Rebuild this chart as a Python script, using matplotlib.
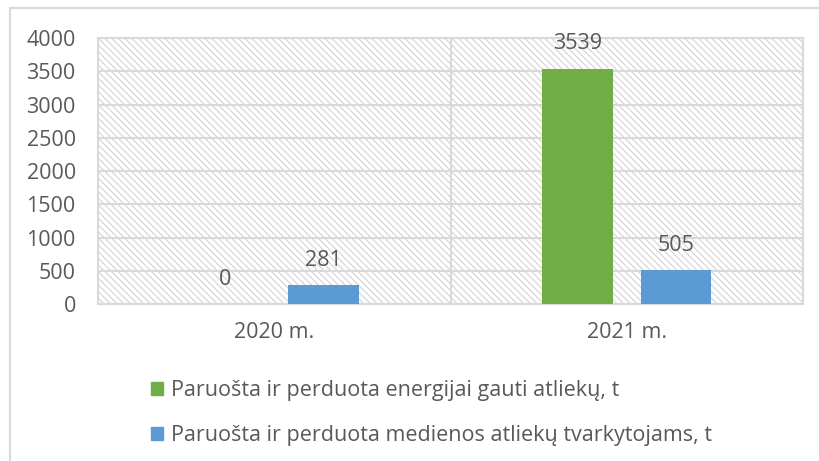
import matplotlib.pyplot as plt
import matplotlib.patches as mpatches
from matplotlib.lines import Line2D
import numpy as np

# data
categories = ['2020 m.', '2021 m.']
energy_vals = [0, 3539]
wood_vals = [281, 505]
series_names = ['Paruošta ir perduota energijai gauti atliekų, t',
                'Paruošta ir perduota medienos atliekų tvarkytojams, t']
y_ticks = [0, 500, 1000, 1500, 2000, 2500, 3000, 3500, 4000]

green = '#70AD47'
blue = '#5B9BD5'
text_col = '#595959'
grid_col = '#d9d9d9'

plt.rcParams['font.family'] = ['Open Sans', 'DejaVu Sans']
plt.rcParams['hatch.color'] = '#d3d3d3'
plt.rcParams['hatch.linewidth'] = 0.8

fs = 15.5

fig = plt.figure(figsize=(8.19, 4.61), dpi=100)
ax = fig.add_axes([98 / 819, 1 - 304 / 461, (803 - 98) / 819, (304 - 38) / 461])

x = np.arange(len(categories))
w = 0.2
off = 0.14

# hatched background
ax.add_patch(mpatches.Rectangle((0, 0), 1, 1, transform=ax.transAxes,
                                facecolor='white', edgecolor='#d3d3d3',
                                hatch='\\\\\\\\\\', lw=0, zorder=0))

b1 = ax.bar(x - off, energy_vals, w, color=green, zorder=3)
b2 = ax.bar(x + off, wood_vals, w, color=blue, zorder=3)

for bars, vals in [(b1, energy_vals), (b2, wood_vals)]:
    for b, v in zip(bars, vals):
        ax.annotate(str(v), (b.get_x() + b.get_width() / 2, v),
                    xytext=(0, 18), textcoords='offset points',
                    ha='center', va='center', fontsize=fs, color=text_col)

ax.set_xlim(-0.5, 1.5)
ax.set_ylim(0, 4000)
ax.set_yticks(y_ticks)
ax.set_xticks(x)
ax.set_xticklabels(categories)
ax.tick_params(axis='y', length=0, pad=16, labelsize=fs, labelcolor=text_col)
ax.tick_params(axis='x', length=0, pad=13, labelsize=fs, labelcolor=text_col)

ax.yaxis.grid(True, color=grid_col, lw=1.5, zorder=1)
ax.set_axisbelow(True)
ax.axvline(0.5, color=grid_col, lw=1.5, zorder=1)
for s in ax.spines.values():
    s.set_color(grid_col)
    s.set_linewidth(1.5)

# chart border (left and top visible)
fig.add_artist(Line2D([10 / 819, 10 / 819], [0, 1 - 8 / 461], transform=fig.transFigure,
                      color=grid_col, lw=1.5))
fig.add_artist(Line2D([10 / 819, 1], [1 - 8 / 461, 1 - 8 / 461], transform=fig.transFigure,
                      color=grid_col, lw=1.5))

handles = [mpatches.Patch(color=green), mpatches.Patch(color=blue)]
fig.legend(handles, series_names, loc='upper left',
           bbox_to_anchor=(132 / 819, 1 - 361 / 461), frameon=False,
           fontsize=fs, labelcolor=text_col, handlelength=0.55, handleheight=0.55,
           handletextpad=0.35, labelspacing=1.12)

plt.savefig('out.png', dpi=100)
